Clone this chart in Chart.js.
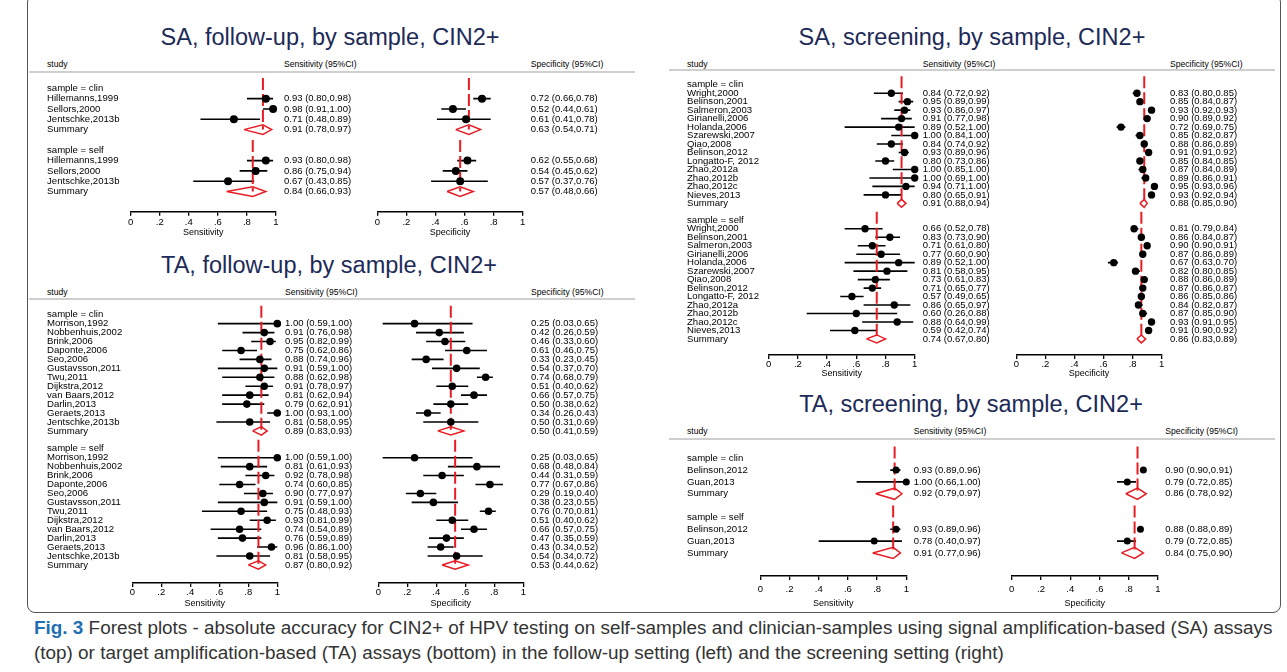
<!DOCTYPE html>
<html>
<head>
<meta charset="utf-8">
<title>Forest plots - CIN2+</title>
<script src="https://cdn.jsdelivr.net/npm/chart.js@4.4.1/dist/chart.umd.min.js"></script>
<style>
  html, body { margin: 0; padding: 0; background: #fff; }
  body { position: relative; width: 1287px; height: 672px; overflow: hidden;
         font-family: "Liberation Sans", Arial, Helvetica, sans-serif; }
  .t { position: absolute; white-space: nowrap; line-height: 1; }
  .title { font-size: 23.5px; color: #1d2a57; transform: translateX(-50%); }
  .head { font-size: 8.6px; color: #000; }
  .rule { position: absolute; height: 2px; background: #cfcfcf; }
  canvas { position: absolute; }
  #frame { position: absolute; left: 27px; top: -6px; width: 1252px; height: 617px;
           border: 1.5px solid #555; border-radius: 8px; }
  #caption { position: absolute; left: 34px; top: 615px; font-size: 18.9px; line-height: 25px;
             color: #333; white-space: nowrap; }
  #caption b { color: #1f6fb2; }
</style>
</head>
<body>
<div id="frame"></div>
<div id="caption"><b>Fig. 3</b> Forest plots - absolute accuracy for CIN2+ of HPV testing on self-samples and clinician-samples using signal amplification-based (SA) assays<br>(top) or target amplification-based (TA) assays (bottom) in the follow-up setting (left) and the screening setting (right)</div>
<script>
// values are [estimate, lower, upper]; the last entry of each series is the Summary row
const groupLabels = ['sample = clin', 'sample = self'];
const tickValues = [0, 0.2, 0.4, 0.6, 0.8, 1];
const tickLabels = ['0', '.2', '.4', '.6', '.8', '1'];

// SA, follow-up
const saFuStudies = ['Hillemanns,1999', 'Sellors,2000', 'Jentschke,2013b'];
const saFuSensClin = [[0.93, 0.80, 0.98], [0.98, 0.91, 1.00], [0.71, 0.48, 0.89], [0.91, 0.78, 0.97]];
const saFuSensSelf = [[0.93, 0.80, 0.98], [0.86, 0.75, 0.94], [0.67, 0.43, 0.85], [0.84, 0.66, 0.93]];
const saFuSpecClin = [[0.72, 0.66, 0.78], [0.52, 0.44, 0.61], [0.61, 0.41, 0.78], [0.63, 0.54, 0.71]];
const saFuSpecSelf = [[0.62, 0.55, 0.68], [0.54, 0.45, 0.62], [0.57, 0.37, 0.76], [0.57, 0.48, 0.66]];

// TA, follow-up
const taFuStudies = ['Morrison,1992', 'Nobbenhuis,2002', 'Brink,2006', 'Daponte,2006', 'Seo,2006',
  'Gustavsson,2011', 'Twu,2011', 'Dijkstra,2012', 'van Baars,2012', 'Darlin,2013', 'Geraets,2013', 'Jentschke,2013b'];
const taFuSensClin = [[1.00, 0.59, 1.00], [0.91, 0.76, 0.98], [0.95, 0.82, 0.99], [0.75, 0.62, 0.86],
  [0.88, 0.74, 0.96], [0.91, 0.59, 1.00], [0.88, 0.62, 0.98], [0.91, 0.78, 0.97], [0.81, 0.62, 0.94],
  [0.79, 0.62, 0.91], [1.00, 0.93, 1.00], [0.81, 0.58, 0.95], [0.89, 0.83, 0.93]];
const taFuSensSelf = [[1.00, 0.59, 1.00], [0.81, 0.61, 0.93], [0.92, 0.78, 0.98], [0.74, 0.60, 0.85],
  [0.90, 0.77, 0.97], [0.91, 0.59, 1.00], [0.75, 0.48, 0.93], [0.93, 0.81, 0.99], [0.74, 0.54, 0.89],
  [0.76, 0.59, 0.89], [0.96, 0.86, 1.00], [0.81, 0.58, 0.95], [0.87, 0.80, 0.92]];
const taFuSpecClin = [[0.25, 0.03, 0.65], [0.42, 0.26, 0.59], [0.46, 0.33, 0.60], [0.61, 0.46, 0.75],
  [0.33, 0.23, 0.45], [0.54, 0.37, 0.70], [0.74, 0.68, 0.79], [0.51, 0.40, 0.62], [0.66, 0.57, 0.75],
  [0.50, 0.38, 0.62], [0.34, 0.26, 0.43], [0.50, 0.31, 0.69], [0.50, 0.41, 0.59]];
const taFuSpecSelf = [[0.25, 0.03, 0.65], [0.68, 0.48, 0.84], [0.44, 0.31, 0.59], [0.77, 0.67, 0.86],
  [0.29, 0.19, 0.40], [0.38, 0.23, 0.55], [0.76, 0.70, 0.81], [0.51, 0.40, 0.62], [0.66, 0.57, 0.75],
  [0.47, 0.35, 0.59], [0.43, 0.34, 0.52], [0.54, 0.34, 0.72], [0.53, 0.44, 0.62]];

// SA, screening
const saScStudies = ['Wright,2000', 'Belinson,2001', 'Salmeron,2003', 'Girianelli,2006', 'Holanda,2006',
  'Szarewski,2007', 'Qiao,2008', 'Belinson,2012', 'Longatto-F, 2012', 'Zhao,2012a', 'Zhao,2012b', 'Zhao,2012c', 'Nieves,2013'];
const saScSensClin = [[0.84, 0.72, 0.92], [0.95, 0.89, 0.99], [0.93, 0.86, 0.97], [0.91, 0.77, 0.98],
  [0.89, 0.52, 1.00], [1.00, 0.84, 1.00], [0.84, 0.74, 0.92], [0.93, 0.89, 0.96], [0.80, 0.73, 0.86],
  [1.00, 0.85, 1.00], [1.00, 0.69, 1.00], [0.94, 0.71, 1.00], [0.80, 0.65, 0.91], [0.91, 0.88, 0.94]];
const saScSensSelf = [[0.66, 0.52, 0.78], [0.83, 0.73, 0.90], [0.71, 0.61, 0.80], [0.77, 0.60, 0.90],
  [0.89, 0.52, 1.00], [0.81, 0.58, 0.95], [0.73, 0.61, 0.83], [0.71, 0.65, 0.77], [0.57, 0.49, 0.65],
  [0.86, 0.65, 0.97], [0.60, 0.26, 0.88], [0.88, 0.64, 0.99], [0.59, 0.42, 0.74], [0.74, 0.67, 0.80]];
const saScSpecClin = [[0.83, 0.80, 0.85], [0.85, 0.84, 0.87], [0.93, 0.92, 0.93], [0.90, 0.89, 0.92],
  [0.72, 0.69, 0.75], [0.85, 0.82, 0.87], [0.88, 0.86, 0.89], [0.91, 0.91, 0.92], [0.85, 0.84, 0.85],
  [0.87, 0.84, 0.89], [0.89, 0.86, 0.91], [0.95, 0.93, 0.96], [0.93, 0.92, 0.94], [0.88, 0.85, 0.90]];
const saScSpecSelf = [[0.81, 0.79, 0.84], [0.86, 0.84, 0.87], [0.90, 0.90, 0.91], [0.87, 0.86, 0.89],
  [0.67, 0.63, 0.70], [0.82, 0.80, 0.85], [0.88, 0.86, 0.89], [0.87, 0.86, 0.87], [0.86, 0.85, 0.86],
  [0.84, 0.82, 0.87], [0.87, 0.85, 0.90], [0.93, 0.91, 0.95], [0.91, 0.90, 0.92], [0.86, 0.83, 0.89]];

// TA, screening
const taScStudies = ['Belinson,2012', 'Guan,2013'];
const taScSensClin = [[0.93, 0.89, 0.96], [1.00, 0.66, 1.00], [0.92, 0.79, 0.97]];
const taScSensSelf = [[0.93, 0.89, 0.96], [0.78, 0.40, 0.97], [0.91, 0.77, 0.96]];
const taScSpecClin = [[0.90, 0.90, 0.91], [0.79, 0.72, 0.85], [0.86, 0.78, 0.92]];
const taScSpecSelf = [[0.88, 0.88, 0.89], [0.79, 0.72, 0.85], [0.84, 0.75, 0.90]];

// page layout, pixels
const plots = [
  { title: 'SA, follow-up, by sample, CIN2+', studies: saFuStudies,
    sens: [saFuSensClin, saFuSensSelf], spec: [saFuSpecClin, saFuSpecSelf],
    lay: { titleX: 330, titleBase: 46, headY: 64.3, ruleY: 70.7, ruleX: [29, 635], nameX: 47,
      sens: [130.7, 276], sensTextX: 284, spec: [377.3, 522.7], specTextX: 530.7,
      row0: 85, step: 10.6, axisY: 211.7, tickY: 222.7, axisTitleY: 232.5, r: 4 } },
  { title: 'TA, follow-up, by sample, CIN2+', studies: taFuStudies,
    sens: [taFuSensClin, taFuSensSelf], spec: [taFuSpecClin, taFuSpecSelf],
    lay: { titleX: 329, titleBase: 274, headY: 292.7, ruleY: 298, ruleX: [29, 635], nameX: 47,
      sens: [132.3, 277.3], sensTextX: 285, spec: [378.3, 523.3], specTextX: 531,
      row0: 311, step: 9.06, axisY: 583, tickY: 592.3, axisTitleY: 603.3, r: 3.8 } },
  { title: 'SA, screening, by sample, CIN2+', studies: saScStudies,
    sens: [saScSensClin, saScSensSelf], spec: [saScSpecClin, saScSpecSelf],
    lay: { titleX: 972, titleBase: 46, headY: 64.3, ruleY: 69, ruleX: [669, 1275], nameX: 687,
      sens: [768.7, 914.7], sensTextX: 922.7, spec: [1016.3, 1161.7], specTextX: 1170,
      row0: 81, step: 8.59, axisY: 355, tickY: 364, axisTitleY: 374, r: 3.7 } },
  { title: 'TA, screening, by sample, CIN2+', studies: taScStudies,
    sens: [taScSensClin, taScSensSelf], spec: [taScSpecClin, taScSpecSelf],
    lay: { titleX: 971, titleBase: 412.7, headY: 431.7, ruleY: 438.3, ruleX: [669, 1275], nameX: 687,
      sens: [760.3, 906.3], sensTextX: 913.7, spec: [1011.7, 1158], specTextX: 1165.3,
      row0: 455, step: 12.16, axisY: 576, tickY: 589, axisTitleY: 603.3, r: 3.5 } }
];

const FONT = '"Liberation Sans", Arial, Helvetica, sans-serif';
const RED = 'rgb(232,28,36)';
Chart.defaults.font.family = FONT;
Chart.defaults.color = '#000';

const fmt = v => v.toFixed(2);
const fmtCI = v => fmt(v[0]) + ' (' + fmt(v[1]) + ',' + fmt(v[2]) + ')';

function addText(cls, text, x, top) {
  const d = document.createElement('div');
  d.className = 't ' + cls;
  d.textContent = text;
  d.style.left = x + 'px';
  d.style.top = top + 'px';
  document.body.appendChild(d);
}

// draws text columns aligned on the chart's row scale
function textColumns(cols) {
  return {
    id: 'forestText',
    afterDraw(chart) {
      const ctx = chart.ctx, y = chart.scales.y;
      ctx.save();
      ctx.fillStyle = '#000';
      ctx.textBaseline = 'middle';
      ctx.textAlign = 'left';
      cols.forEach(col => {
        ctx.font = col.font;
        col.items.forEach(it => ctx.fillText(it.text, col.x, y.getPixelForValue(it.row)));
      });
      ctx.restore();
    }
  };
}

function makePanel(plot, key) {
  const L = plot.lay;
  const n = plot.studies.length;
  const series = plot[key];
  const [x0, x1] = L[key];
  const left = key === 'sens' ? Math.floor(L.nameX - 4) : Math.ceil(L.spec[0] - 12);
  const right = key === 'sens' ? Math.ceil(L.spec[0] - 12) : Math.ceil(L.specTextX + 76);
  const top = Math.floor(L.row0 - 2.3 * L.step);
  const bottom = Math.ceil(L.axisTitleY + 7);
  const w = right - left, h = bottom - top;
  const axisH = bottom - L.axisY;
  const tickFont = 9.5, titleFont = 9;

  const canvas = document.createElement('canvas');
  canvas.width = w; canvas.height = h;
  canvas.style.left = left + 'px';
  canvas.style.top = top + 'px';
  canvas.style.width = w + 'px';
  canvas.style.height = h + 'px';
  document.body.appendChild(canvas);

  const starts = [0, n + 3];
  const pts = [], bars = [], dash = [], diam = [];
  const ciItems = [], nameItems = [];
  const hh = 0.47;
  starts.forEach((s, g) => {
    const rows = series[g];
    const sum = rows[n];
    const sumRow = s + n + 1;
    rows.slice(0, n).forEach((v, i) => {
      const r = s + 1 + i;
      pts.push({ x: v[0], y: r });
      bars.push({ x: v[1], y: r }, { x: v[2], y: r }, { x: v[2], y: null });
    });
    dash.push({ x: sum[0], y: s - 1 }, { x: sum[0], y: sumRow }, { x: sum[0], y: null });
    diam.push({ x: sum[1], y: sumRow }, { x: sum[0], y: sumRow - hh }, { x: sum[2], y: sumRow },
      { x: sum[0], y: sumRow + hh }, { x: sum[1], y: sumRow }, { x: sum[1], y: null });
    rows.forEach((v, i) => ciItems.push({ text: fmtCI(v), row: s + 1 + i }));
    nameItems.push({ text: groupLabels[g], row: s });
    plot.studies.forEach((st, i) => nameItems.push({ text: st, row: s + 1 + i }));
    nameItems.push({ text: 'Summary', row: sumRow });
  });

  const cols = [{ x: (key === 'sens' ? L.sensTextX : L.specTextX) - left, items: ciItems, font: '9.5px ' + FONT }];
  if (key === 'sens') cols.push({ x: L.nameX - left, items: nameItems, font: '9.6px ' + FONT });

  new Chart(canvas, {
    type: 'scatter',
    data: {
      datasets: [
        { data: pts, pointRadius: L.r, pointBackgroundColor: '#000', pointBorderWidth: 0, clip: false },
        { data: dash, showLine: true, pointRadius: 0, borderColor: RED, borderWidth: 2, borderDash: [12, 4], spanGaps: false, clip: false },
        { data: bars, showLine: true, pointRadius: 0, borderColor: '#000', borderWidth: 1.6, spanGaps: false, clip: false },
        { data: diam, showLine: true, pointRadius: 0, borderColor: RED, borderWidth: 1.5, fill: false, spanGaps: false, clip: false }
      ]
    },
    options: {
      responsive: false,
      animation: false,
      events: [],
      layout: { padding: { left: x0 - left, right: right - x1, top: 0, bottom: 0 } },
      plugins: { legend: { display: false }, tooltip: { enabled: false } },
      scales: {
        x: {
          type: 'linear', min: 0, max: 1,
          afterBuildTicks: s => { s.ticks = tickValues.map(v => ({ value: v })); },
          afterFit: s => { s.height = axisH; },
          grid: { display: true, drawOnChartArea: false, drawTicks: true, tickLength: 4, color: '#000', lineWidth: 1.3 },
          border: { display: true, color: '#000', width: 1.5 },
          ticks: {
            autoSkip: false, maxRotation: 0, color: '#000', font: { size: tickFont },
            padding: L.tickY - L.axisY - 4 - tickFont * 0.6,
            callback: (v, i) => tickLabels[i]
          },
          title: {
            display: true, text: key === 'sens' ? 'Sensitivity' : 'Specificity', color: '#000',
            font: { size: titleFont },
            padding: { top: 0, bottom: bottom - L.axisTitleY - titleFont * 0.6 }
          }
        },
        y: {
          type: 'linear', display: false, reverse: true,
          min: (top - L.row0) / L.step, max: (L.axisY - L.row0) / L.step
        }
      }
    },
    plugins: [textColumns(cols)]
  });
}

plots.forEach(p => {
  const L = p.lay;
  addText('title', p.title, L.titleX, L.titleBase - 23.5 * 0.8465);
  const hTop = L.headY - 8.6 * 0.49;
  addText('head', 'study', L.nameX, hTop);
  addText('head', 'Sensitivity (95%CI)', L.sensTextX, hTop);
  addText('head', 'Specificity (95%CI)', L.specTextX, hTop);
  const rule = document.createElement('div');
  rule.className = 'rule';
  rule.style.left = L.ruleX[0] + 'px';
  rule.style.width = (L.ruleX[1] - L.ruleX[0]) + 'px';
  rule.style.top = L.ruleY + 'px';
  document.body.appendChild(rule);
  makePanel(p, 'sens');
  makePanel(p, 'spec');
});
</script>
</body>
</html>
